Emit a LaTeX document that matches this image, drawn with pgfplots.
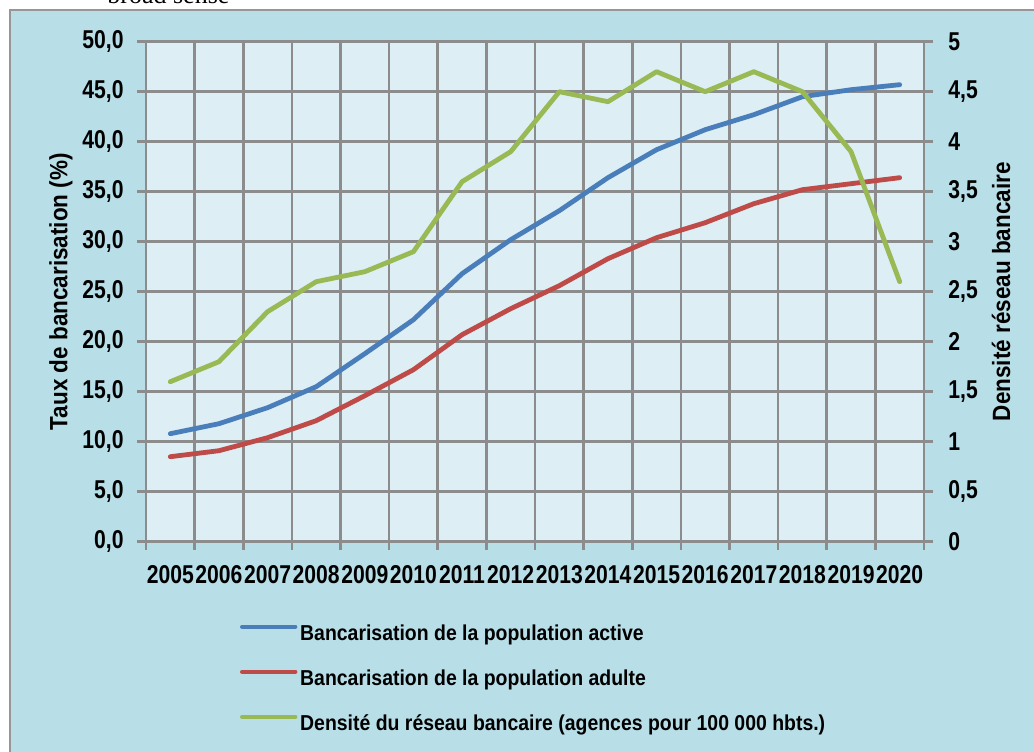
\documentclass[border=0pt]{standalone}
\usepackage{fontspec}
\setmainfont{Liberation Sans}[FakeStretch=0.9]
\newfontfamily\tickfont{Liberation Sans}[FakeStretch=0.82]
\newfontfamily\serifbroad{Liberation Serif}
\usepackage{pgfplots}
\usepackage{pgfplotstable}
\pgfplotsset{compat=1.18}

\definecolor{framebg}{RGB}{184,223,232}
\definecolor{plotbg}{RGB}{221,238,244}
\definecolor{gridgray}{RGB}{140,140,140}
\definecolor{framegray}{RGB}{150,150,150}
\definecolor{sblue}{RGB}{74,126,187}
\definecolor{sred}{RGB}{190,75,72}
\definecolor{sgreen}{RGB}{152,185,84}

\pgfplotstableread{
year active adult density
2005 10.8 8.5 1.6
2006 11.8 9.1 1.8
2007 13.4 10.4 2.3
2008 15.5 12.1 2.6
2009 18.8 14.6 2.7
2010 22.2 17.2 2.9
2011 26.8 20.7 3.6
2012 30.2 23.3 3.9
2013 33.1 25.6 4.5
2014 36.4 28.3 4.4
2015 39.2 30.4 4.7
2016 41.2 31.9 4.5
2017 42.7 33.8 4.7
2018 44.5 35.2 4.5
2019 45.2 35.8 3.9
2020 45.7 36.4 2.6
}\datatable

\pgfplotsset{
 basestyle/.style={
  scale only axis, width=389pt, height=250pt,
  at={(73pt,104.65pt)}, anchor=south west,
  xmin=2004.5, xmax=2020.5,
  major tick length=4.5pt, minor tick length=4pt,
  every tick/.style={gridgray, line width=1.35pt},
  axis line style={gridgray, line width=1.35pt},
  ticklabel style={font=\tickfont\fontsize{12.9pt}{13pt}\selectfont\bfseries, inner sep=0pt},
  label style={font=\fontsize{12.5pt}{13pt}\selectfont\bfseries},
  /pgf/number format/assume math mode=true,
  clip=false,
 },
 dataline/.style={line width=2.4pt, line join=round, line cap=round},
}

\begin{document}
\begin{tikzpicture}[x=0.5pt,y=0.5pt]
\useasboundingbox (0,0) rectangle (1034,751);
\clip (0,0) rectangle (1034,751);
\fill[framebg] (10,-5) rectangle (1040,741);
\draw[framegray, line width=1pt] (10,-5) -- (10,741) -- (1040,741);
\node[anchor=base west, inner sep=0pt, font=\serifbroad\fontsize{13}{13}\selectfont] at (107,747) {broad sense};

\begin{axis}[basestyle,
 axis background/.style={fill=plotbg},
 tick align=outside,
 tick pos=left,
 ymin=0, ymax=50, ytick={0,5,...,50},
 xtick={2005,2006,...,2020},
 xticklabels={2005,2006,2007,2008,2009,2010,2011,2012,2013,2014,2015,2016,2017,2018,2019,2020},
 minor xtick={2004.5,2005.5,...,2020.5},
 major x tick style={draw=none},
 ymajorgrids, xminorgrids,
 major grid style={gridgray, line width=1.35pt},
 minor grid style={gridgray, line width=1.35pt},
 yticklabel style={/pgf/number format/fixed, /pgf/number format/fixed zerofill, /pgf/number format/precision=1, /pgf/number format/use comma, xshift=-6.5pt},
 xticklabel style={yshift=-7pt},
 ylabel={Taux de bancarisation (\%)},
 ylabel style={at={(axis description cs:-0.1093,0.5)}, anchor=center},
 legend style={at={(axis description cs:0.1208,-0.1646)}, anchor=north west, draw=none, fill=none, inner sep=0pt, outer sep=0pt, row sep=12pt,
   nodes={inner sep=0pt, text height=8pt, text depth=2.5pt, font=\fontsize{10.8pt}{11pt}\selectfont\bfseries}},
 legend cell align=left,
 legend image code/.code={\draw[#1, line width=2.2pt, line cap=round] (0pt,3.9pt) -- (26.5pt,3.9pt); \path (27.8pt,3.9pt);},
]
\addplot[sblue, dataline] table[x=year, y=active] {\datatable};
\addlegendentry{Bancarisation de la population active}
\addplot[sred, dataline] table[x=year, y=adult] {\datatable};
\addlegendentry{Bancarisation de la population adulte}
\addlegendimage{sgreen, dataline}
\addlegendentry{Densité du réseau bancaire (agences pour 100 000 hbts.)}
\end{axis}

\begin{axis}[basestyle,
 axis x line=none, axis y line*=right,
 tick align=outside,
 ymin=0, ymax=5, ytick={0,0.5,...,5},
 yticklabel style={/pgf/number format/use comma, xshift=7.5pt},
 ylabel={Densité réseau bancaire},
 ylabel style={at={(axis description cs:1.099,0.5)}, anchor=center},
]
\addplot[sgreen, dataline] table[x=year, y=density] {\datatable};
\end{axis}
\end{tikzpicture}
\end{document}
